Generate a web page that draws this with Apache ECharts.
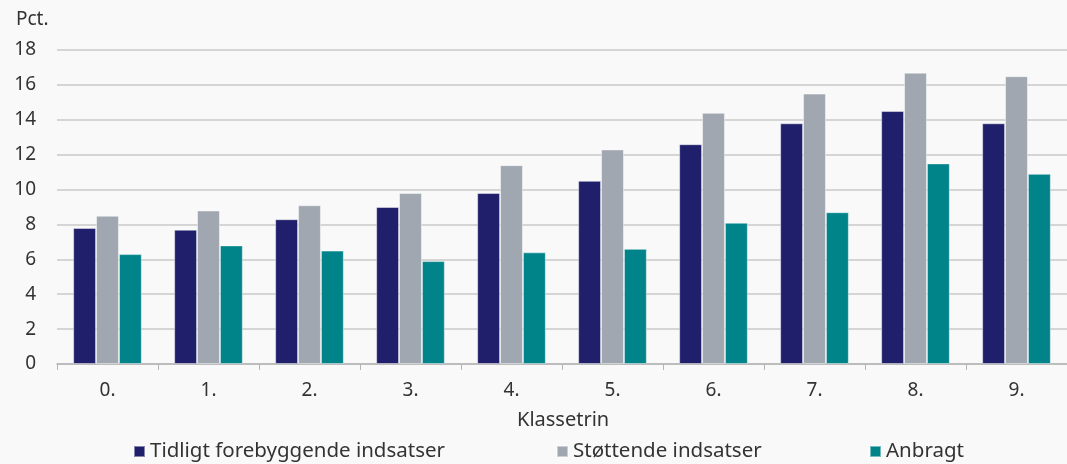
<!DOCTYPE html>
<html>
<head>
<meta charset="utf-8">
<script src="https://cdn.jsdelivr.net/npm/echarts@6/dist/echarts.min.js"></script>
<style>
  html, body { margin: 0; padding: 0; background: #f9f9f9; }
  #chart { width: 1067px; height: 464px; }
</style>
</head>
<body>
<div id="chart"></div>
<script>
var myChart = echarts.init(document.getElementById('chart'));

var categories = ['0.', '1.', '2.', '3.', '4.', '5.', '6.', '7.', '8.', '9.'];
var seriesNames = ['Tidligt forebyggende indsatser', 'Støttende indsatser', 'Anbragt'];

var tidligt = [7.8, 7.7, 8.3, 9.0, 9.8, 10.5, 12.6, 13.8, 14.5, 13.8];
var stoettende = [8.5, 8.8, 9.1, 9.8, 11.4, 12.3, 14.4, 15.5, 16.7, 16.5];
var anbragt = [6.3, 6.8, 6.5, 5.9, 6.4, 6.6, 8.1, 8.7, 11.5, 10.9];

var colors = ['#1f1f6b', '#a0a7b0', '#008489'];
var font = '"Noto Sans", Lato, sans-serif';
var textColor = '#333';

function bar(name, data, color) {
    return {
        name: name,
        type: 'bar',
        data: data,
        barGap: '0%',
        barCategoryGap: '32%',
        itemStyle: {
            color: color,
            borderColor: 'rgba(255,255,255,0.45)',
            borderWidth: 1
        }
    };
}

// one legend per item so each can sit where the original puts it
var legendLefts = [133, 556, 869];
var legends = seriesNames.map(function (n, i) {
    return {
        data: [n],
        left: legendLefts[i],
        top: 441,
        padding: 0,
        itemWidth: 11,
        itemHeight: 11,
        icon: 'rect',
        textStyle: { fontSize: 20.5, color: textColor, fontFamily: font }
    };
});

option = {
    backgroundColor: '#f9f9f9',
    color: colors,
    textStyle: { fontFamily: font },
    title: [{
        text: 'Pct.',
        left: 11,
        top: 5,
        textStyle: { fontSize: 19, fontWeight: 'normal', color: textColor, fontFamily: font }
    }, {
        text: 'Klassetrin',
        left: 512,
        top: 405,
        textStyle: { fontSize: 20, fontWeight: 'normal', color: textColor, fontFamily: font }
    }],
    legend: legends,
    grid: {
        left: 57,
        right: -8,
        top: 50,
        bottom: 100
    },
    xAxis: {
        type: 'category',
        data: categories,
        axisLine: { lineStyle: { color: '#b4b4b4', width: 1.5 } },
        axisTick: { show: true, length: 6, lineStyle: { color: '#b4b4b4' } },
        axisLabel: { fontSize: 19, color: textColor, margin: 17, fontFamily: font }
    },
    yAxis: {
        type: 'value',
        min: 0,
        max: 18,
        interval: 2,
        axisLine: { show: false },
        axisTick: { show: false },
        axisLabel: { fontSize: 19, color: textColor, margin: 21, fontFamily: font },
        splitLine: { lineStyle: { color: '#c8c8c8', width: 1.5 } }
    },
    series: [
        bar(seriesNames[0], tidligt, colors[0]),
        bar(seriesNames[1], stoettende, colors[1]),
        bar(seriesNames[2], anbragt, colors[2])
    ]
};
myChart.setOption(option);
</script>
</body>
</html>
